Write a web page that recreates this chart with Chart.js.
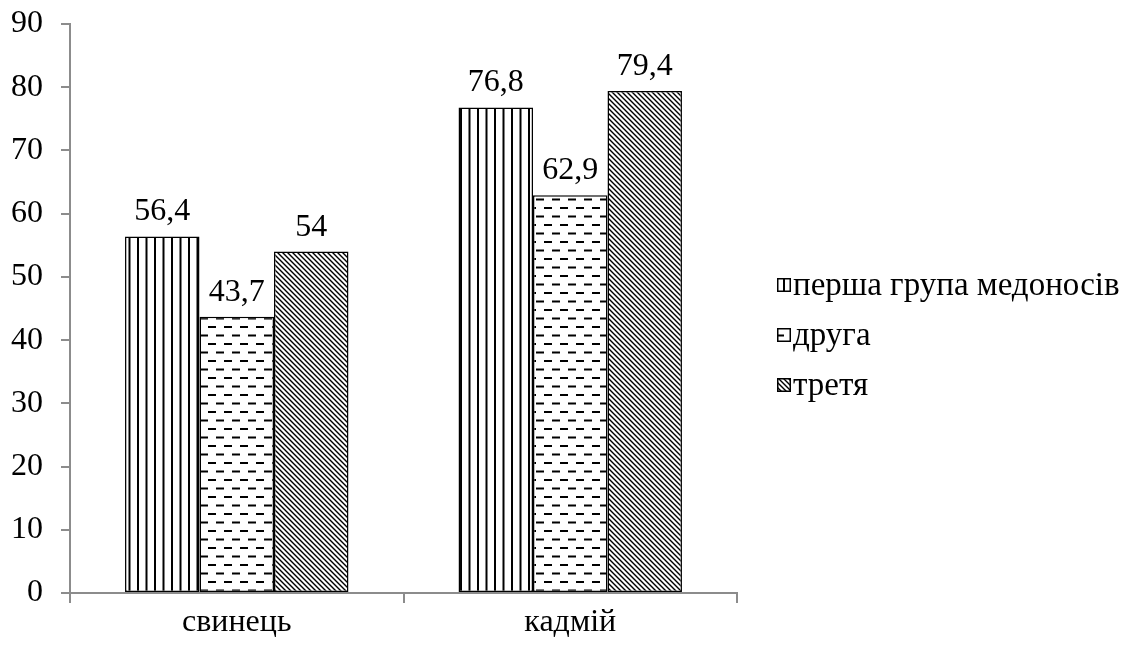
<!DOCTYPE html>
<html>
<head>
<meta charset="utf-8">
<script src="https://cdn.jsdelivr.net/npm/chart.js@4.4.1/dist/chart.umd.min.js"></script>
<style>
  html, body { margin: 0; padding: 0; background: #ffffff; }
  #wrap { width: 1133px; height: 646px; position: relative; }
</style>
</head>
<body>
<div id="wrap"><canvas id="chart" width="1133" height="646"></canvas></div>
<script>
// Categories and series values
const categories = ['свинець', 'кадмій'];
const seriesNames = ['перша група медоносів', 'друга', 'третя'];
const firstGroup = [56.4, 76.8];
const secondGroup = [43.7, 62.9];
const thirdGroup = [54, 79.4];
const yTicks = [0, 10, 20, 30, 40, 50, 60, 70, 80, 90];

const FONT = '"Liberation Serif", "Times New Roman", serif';
const AXIS_GRAY = '#8c8c8c';

// Hatch fills
function makeTile(w, h, draw) {
  const c = document.createElement('canvas');
  c.width = w; c.height = h;
  const g = c.getContext('2d');
  g.fillStyle = '#ffffff';
  g.fillRect(0, 0, w, h);
  draw(g);
  return document.createElement('canvas').getContext('2d').createPattern(c, 'repeat');
}

const verticalHatch = makeTile(17, 4, g => {
  g.fillStyle = '#000000';
  g.fillRect(1, 0, 2, 4);
  g.fillRect(9.5, 0, 2, 4);
});

const dashHatch = makeTile(16, 17, g => {
  g.fillStyle = '#000000';
  g.fillRect(0, 3, 8, 2);
  g.fillRect(8, 11.5, 8, 2);
});

const diagHatch = makeTile(5, 5, g => {
  g.strokeStyle = '#000000';
  g.lineWidth = 1.4;
  g.beginPath();
  for (const off of [-5, 0, 5]) {
    g.moveTo(off - 1, -1);
    g.lineTo(off + 6, 6);
  }
  g.stroke();
});

const fills = [verticalHatch, dashHatch, diagHatch];
const seriesData = [firstGroup, secondGroup, thirdGroup];

// Value labels above bars, decimal comma
const valueLabels = {
  id: 'valueLabels',
  afterDatasetsDraw(chart) {
    const ctx = chart.ctx;
    ctx.save();
    ctx.font = '32px ' + FONT;
    ctx.fillStyle = '#000000';
    ctx.textAlign = 'center';
    ctx.textBaseline = 'alphabetic';
    chart.data.datasets.forEach((ds, i) => {
      chart.getDatasetMeta(i).data.forEach((bar, j) => {
        const txt = String(ds.data[j]).replace('.', ',');
        ctx.fillText(txt, bar.x, bar.y - 16);
      });
    });
    ctx.restore();
  }
};

// Legend at the right, with hatch swatches
const sideLegend = {
  id: 'sideLegend',
  afterDraw(chart) {
    const ctx = chart.ctx;
    ctx.save();
    ctx.font = '33px ' + FONT;
    ctx.textBaseline = 'middle';
    ctx.textAlign = 'left';
    const x0 = 777, box = 14, rows = [285, 335, 385];
    seriesNames.forEach((name, i) => {
      const cy = rows[i];
      ctx.fillStyle = fills[i];
      ctx.fillRect(x0, cy - box / 2, box, box);
      ctx.strokeStyle = '#000000';
      ctx.lineWidth = 1.5;
      ctx.strokeRect(x0 + 0.75, cy - box / 2 + 0.75, box - 1.5, box - 1.5);
      ctx.fillStyle = '#000000';
      ctx.fillText(name, x0 + box + 2, cy + 1);
    });
    ctx.restore();
  }
};

new Chart(document.getElementById('chart'), {
  type: 'bar',
  data: {
    labels: categories,
    datasets: seriesNames.map((name, i) => ({
      label: name,
      data: seriesData[i],
      backgroundColor: fills[i],
      borderColor: '#000000',
      borderWidth: 1.5,
      borderSkipped: false,
      categoryPercentage: 0.67,
      barPercentage: 1.0
    }))
  },
  options: {
    responsive: false,
    animation: false,
    devicePixelRatio: 1,
    layout: { padding: { top: 24, right: 396, bottom: 0, left: 0 } },
    plugins: {
      legend: { display: false },
      tooltip: { enabled: false }
    },
    scales: {
      x: {
        grid: {
          display: true,
          drawOnChartArea: false,
          drawTicks: true,
          tickLength: 10,
          color: AXIS_GRAY,
          lineWidth: 2,
          offset: true
        },
        border: { display: true, color: AXIS_GRAY, width: 2 },
        ticks: {
          color: '#000000',
          font: { family: FONT, size: 32 },
          padding: 0,
          maxRotation: 0
        },
        afterFit(scale) {
          scale.height = 53;
          scale.paddingLeft = 0;
          scale.paddingRight = 0;
        }
      },
      y: {
        min: 0,
        max: 90,
        afterBuildTicks(scale) { scale.ticks = yTicks.map(v => ({ value: v })); },
        grid: {
          display: true,
          drawOnChartArea: false,
          drawTicks: true,
          tickLength: 9,
          color: AXIS_GRAY,
          lineWidth: 2
        },
        border: { display: true, color: AXIS_GRAY, width: 2 },
        ticks: {
          color: '#000000',
          font: { family: FONT, size: 32 },
          padding: 18
        },
        afterFit(scale) {
          scale.width = 70;
          scale.paddingTop = 0;
          scale.paddingBottom = 0;
        }
      }
    }
  },
  plugins: [valueLabels, sideLegend]
});
</script>
</body>
</html>
